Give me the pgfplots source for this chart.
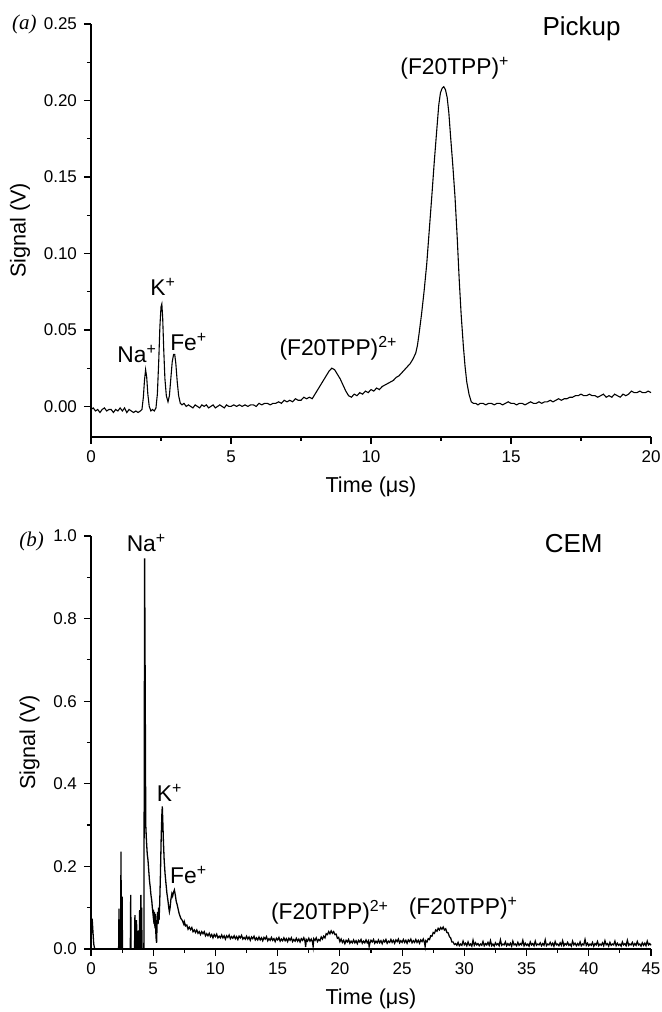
\documentclass[border=0pt]{standalone}
\usepackage{fontspec}
\setmainfont{Liberation Sans}
\newfontfamily\serifit{Liberation Serif}
\usepackage{pgfplots}
\pgfplotsset{compat=1.18}

\pgfplotsset{
  tof/.style={
    scale only axis, width=280pt, height=206.5pt,
    axis x line*=bottom, axis y line*=left,
    axis line style={line width=0.6pt,-},
    tick style={line width=0.6pt,black},
    tick align=outside,
    major tick length=3.5pt, minor tick length=2pt,
    minor x tick num=1, minor y tick num=1,
    tick label style={font=\fontsize{8.5}{10}\selectfont},
    label style={font=\fontsize{10.8}{12}\selectfont},
    /pgf/number format/assume math mode=true,
    scaled y ticks=false,
    xlabel={Time (μs)}, ylabel={Signal (V)},
    clip=false,
  },
  trace/.style={black, line width=0.55pt, no markers},
}
\tikzset{peak/.style={font=\fontsize{11.4}{13}\selectfont}}

% pickup signal
\pgfplotstableread{
x y
0.00 -0.002
0.08 -0.001
0.16 -0.003
0.24 -0.002
0.32 -0.004
0.40 -0.002
0.48 -0.001
0.56 -0.003
0.64 -0.002
0.72 -0.002
0.80 -0.004
0.88 -0.002
0.96 -0.003
1.04 -0.001
1.12 -0.003
1.20 -0.001
1.28 -0.004
1.36 -0.002
1.44 -0.003
1.52 -0.004
1.60 -0.003
1.68 -0.004
1.76 -0.003
1.82 -0.002
1.87 0.006
1.91 0.017
1.95 0.024
1.99 0.019
2.03 0.008
2.08 0.000
2.14 -0.003
2.20 -0.002
2.26 -0.003
2.32 -0.001
2.37 0.008
2.42 0.030
2.46 0.052
2.50 0.065
2.53 0.067
2.56 0.058
2.60 0.036
2.64 0.018
2.69 0.007
2.75 0.003
2.80 0.007
2.85 0.018
2.90 0.029
2.95 0.034
2.99 0.034
3.03 0.028
3.08 0.016
3.13 0.007
3.19 0.002
3.25 0.001
3.32 0.002
3.40 0.000
3.48 0.001
3.56 0.000
3.64 -0.001
3.72 0.001
3.80 0.000
3.88 -0.001
3.96 0.001
4.04 0.000
4.12 0.001
4.20 -0.001
4.28 0.000
4.36 0.001
4.44 -0.001
4.52 0.000
4.60 0.001
4.68 0.000
4.76 -0.001
4.84 0.001
4.92 0.000
5.00 0.000
5.10 0.001
5.20 0.000
5.30 0.001
5.40 0.000
5.50 0.001
5.60 0.000
5.70 0.001
5.80 0.001
5.90 0.000
6.00 0.002
6.10 0.001
6.20 0.002
6.30 0.002
6.40 0.001
6.50 0.002
6.60 0.002
6.70 0.003
6.80 0.002
6.90 0.004
7.00 0.003
7.10 0.004
7.20 0.003
7.30 0.005
7.40 0.004
7.50 0.004
7.60 0.006
7.70 0.005
7.80 0.006
7.90 0.005
8.00 0.008
8.10 0.011
8.20 0.014
8.30 0.017
8.40 0.020
8.50 0.023
8.60 0.025
8.70 0.024
8.80 0.021
8.90 0.018
9.00 0.014
9.10 0.010
9.20 0.007
9.30 0.006
9.40 0.008
9.50 0.007
9.60 0.009
9.70 0.008
9.80 0.010
9.90 0.009
10.00 0.011
10.10 0.010
10.20 0.012
10.30 0.011
10.40 0.013
10.50 0.014
10.60 0.015
10.70 0.016
10.80 0.017
10.90 0.019
11.00 0.020
11.10 0.022
11.20 0.024
11.30 0.026
11.40 0.028
11.50 0.031
11.60 0.035
11.66 0.040
11.72 0.048
11.81 0.061
11.90 0.076
11.99 0.093
12.08 0.115
12.17 0.137
12.26 0.160
12.35 0.181
12.42 0.197
12.48 0.205
12.54 0.208
12.60 0.209
12.66 0.207
12.72 0.202
12.78 0.192
12.84 0.177
12.92 0.158
13.00 0.137
13.08 0.110
13.15 0.083
13.22 0.060
13.30 0.039
13.36 0.026
13.42 0.016
13.50 0.008
13.58 0.003
13.66 0.002
13.74 0.002
13.82 0.001
13.90 0.002
14.00 0.002
14.10 0.001
14.20 0.002
14.30 0.002
14.40 0.001
14.50 0.002
14.60 0.002
14.70 0.001
14.80 0.002
14.90 0.003
15.00 0.002
15.10 0.002
15.20 0.001
15.30 0.002
15.40 0.002
15.50 0.001
15.60 0.002
15.70 0.003
15.80 0.002
15.90 0.002
16.00 0.003
16.10 0.002
16.20 0.003
16.30 0.003
16.40 0.004
16.50 0.003
16.60 0.004
16.70 0.005
16.80 0.004
16.90 0.005
17.00 0.005
17.10 0.006
17.20 0.006
17.30 0.007
17.40 0.007
17.50 0.008
17.60 0.007
17.70 0.007
17.80 0.008
17.90 0.007
18.00 0.007
18.10 0.006
18.20 0.007
18.30 0.008
18.40 0.006
18.50 0.007
18.60 0.006
18.70 0.008
18.80 0.007
18.90 0.006
19.00 0.008
19.10 0.007
19.20 0.008
19.30 0.010
19.40 0.009
19.50 0.009
19.60 0.010
19.70 0.009
19.80 0.009
19.90 0.010
20.00 0.009
}\pickup

% CEM signal
\pgfplotstableread{
x y
0.00 0.000
0.05 0.068
0.10 0.070
0.16 0.040
0.22 0.012
0.30 0.000
2.22 0.000
2.25 0.098
2.28 0.000
2.38 0.000
2.41 0.236
2.44 0.000
2.47 0.000
2.50 0.127
2.53 0.000
3.16 0.000
3.19 0.131
3.22 0.000
3.50 0.000
3.53 0.082
3.56 0.000
3.63 0.000
3.66 0.070
3.69 0.000
3.78 0.000
3.81 0.045
3.84 0.000
3.88 0.000
3.91 0.094
3.94 0.000
3.98 0.000
4.01 0.131
4.04 0.020
4.07 0.100
4.10 0.000
4.25 0.000
4.31 0.946
4.36 0.600
4.40 0.300
4.46 0.260
4.52 0.230
4.58 0.215
4.64 0.190
4.70 0.165
4.76 0.150
4.82 0.130
4.88 0.118
4.93 0.100
4.98 0.085
5.02 0.095
5.06 0.060
5.10 0.090
5.14 0.050
5.18 0.085
5.22 0.030
5.27 0.015
5.31 0.060
5.35 0.090
5.39 0.060
5.43 0.100
5.47 0.070
5.52 0.110
5.58 0.180
5.64 0.270
5.70 0.330
5.73 0.345
5.77 0.310
5.82 0.260
5.88 0.215
5.95 0.183
6.02 0.160
6.10 0.135
6.18 0.118
6.25 0.100
6.30 0.090
6.35 0.098
6.42 0.120
6.50 0.134
6.56 0.128
6.62 0.136
6.70 0.143
6.78 0.130
6.85 0.115
6.92 0.108
7.00 0.097
7.08 0.086
7.15 0.080
7.22 0.074
7.30 0.071
7.38 0.066
7.46 0.060
7.5 0.066
7.6 0.056
7.7 0.058
7.8 0.048
7.9 0.053
8.0 0.047
8.1 0.052
8.2 0.042
8.3 0.046
8.4 0.040
8.5 0.046
8.6 0.038
8.7 0.042
8.8 0.035
8.9 0.042
9.0 0.037
9.1 0.042
9.2 0.032
9.3 0.037
9.4 0.032
9.5 0.038
9.6 0.030
9.7 0.035
9.8 0.027
9.9 0.035
10.0 0.030
10.1 0.036
10.2 0.027
10.3 0.031
10.4 0.027
10.5 0.034
10.6 0.027
10.7 0.032
10.8 0.024
10.9 0.032
11.0 0.028
11.1 0.034
11.2 0.025
11.3 0.030
11.4 0.026
11.5 0.032
11.6 0.025
11.7 0.030
11.8 0.023
11.9 0.031
12.0 0.027
12.1 0.033
12.2 0.024
12.3 0.028
12.4 0.024
12.5 0.031
12.6 0.024
12.7 0.029
12.8 0.021
12.9 0.029
13.0 0.025
13.1 0.031
13.2 0.022
13.3 0.027
13.4 0.022
13.5 0.029
13.6 0.022
13.7 0.027
13.8 0.020
13.9 0.028
14.0 0.024
14.1 0.030
14.2 0.020
14.3 0.025
14.4 0.021
14.5 0.028
14.6 0.021
14.7 0.025
14.8 0.018
14.9 0.026
15.0 0.022
15.1 0.028
15.2 0.019
15.3 0.024
15.4 0.020
15.5 0.027
15.6 0.020
15.7 0.025
15.8 0.018
15.9 0.026
16.0 0.021
16.1 0.027
16.2 0.018
16.3 0.023
16.4 0.019
16.5 0.026
16.6 0.019
16.7 0.024
16.8 0.017
16.9 0.025
17.0 0.021
17.1 0.027
17.2 0.018
17.25 0.005
17.3 0.023
17.4 0.019
17.5 0.026
17.6 0.019
17.7 0.024
17.8 0.017
17.85 0.006
17.9 0.025
18.0 0.021
18.1 0.027
18.2 0.018
18.3 0.023
18.4 0.020
18.5 0.029
18.6 0.024
18.7 0.031
18.8 0.027
18.9 0.037
19.0 0.035
19.1 0.042
19.2 0.037
19.3 0.044
19.4 0.038
19.5 0.042
19.6 0.035
19.7 0.036
19.8 0.026
19.9 0.028
20.0 0.018
20.1 0.024
20.2 0.016
20.3 0.021
20.4 0.013
20.5 0.021
20.6 0.017
20.7 0.023
20.8 0.014
20.9 0.019
21.0 0.015
21.1 0.022
21.2 0.015
21.3 0.020
21.4 0.013
21.5 0.021
21.6 0.017
21.7 0.023
21.8 0.014
21.9 0.019
22.0 0.015
22.1 0.022
22.2 0.015
22.3 0.020
22.35 0.006
22.4 0.013
22.5 0.021
22.6 0.017
22.7 0.023
22.8 0.014
22.9 0.019
23.0 0.015
23.1 0.022
23.2 0.015
23.3 0.020
23.4 0.013
23.5 0.021
23.6 0.017
23.7 0.023
23.8 0.014
23.9 0.019
24.0 0.016
24.1 0.023
24.2 0.016
24.3 0.021
24.4 0.014
24.5 0.022
24.6 0.018
24.7 0.024
24.8 0.015
24.9 0.020
25.0 0.016
25.1 0.023
25.2 0.016
25.3 0.021
25.4 0.014
25.5 0.022
25.6 0.018
25.7 0.024
25.8 0.015
25.9 0.020
26.0 0.016
26.1 0.023
26.2 0.016
26.3 0.021
26.4 0.014
26.5 0.022
26.6 0.018
26.7 0.024
26.8 0.015
26.85 0.006
26.9 0.020
27.0 0.017
27.1 0.025
27.2 0.023
27.3 0.032
27.4 0.031
27.5 0.040
27.6 0.038
27.7 0.046
27.8 0.043
27.9 0.050
28.0 0.046
28.1 0.052
28.2 0.048
28.3 0.053
28.4 0.046
28.5 0.049
28.6 0.040
28.7 0.039
28.8 0.030
28.9 0.027
29.0 0.017
29.1 0.017
29.2 0.011
29.3 0.013
29.4 0.009
29.5 0.016
29.6 0.008
29.7 0.012
29.8 0.009
29.9 0.019
30.0 0.010
30.1 0.014
30.2 0.008
30.3 0.017
30.4 0.009
30.5 0.012
30.6 0.007
30.7 0.021
30.8 0.009
30.9 0.015
31.0 0.010
31.1 0.013
31.2 0.008
31.3 0.012
31.4 0.009
31.5 0.018
31.6 0.008
31.7 0.013
31.8 0.010
31.9 0.016
32.0 0.009
32.1 0.020
32.2 0.008
32.3 0.012
32.4 0.007
32.5 0.015
32.6 0.010
32.7 0.013
32.8 0.008
32.9 0.022
33.0 0.009
33.1 0.012
33.2 0.010
33.3 0.017
33.4 0.008
33.5 0.013
33.6 0.009
33.7 0.014
33.8 0.007
33.9 0.019
34.0 0.010
34.1 0.012
34.2 0.008
34.3 0.016
34.4 0.009
34.5 0.013
34.6 0.010
34.7 0.021
34.8 0.008
34.9 0.014
35.0 0.009
35.1 0.012
35.2 0.007
35.3 0.017
35.4 0.010
35.5 0.013
35.6 0.008
35.7 0.019
35.8 0.009
35.9 0.012
36.0 0.010
36.1 0.015
36.2 0.008
36.3 0.013
36.4 0.009
36.5 0.022
36.6 0.008
36.7 0.012
36.8 0.010
36.9 0.016
37.0 0.009
37.1 0.014
37.2 0.007
37.3 0.018
37.4 0.010
37.5 0.012
37.6 0.008
37.7 0.015
37.8 0.009
37.9 0.020
38.0 0.008
38.1 0.013
38.2 0.010
38.3 0.016
38.4 0.009
38.5 0.012
38.6 0.007
38.7 0.019
38.8 0.010
38.9 0.014
39.0 0.008
39.1 0.013
39.2 0.009
39.3 0.017
39.4 0.008
39.5 0.012
39.6 0.010
39.7 0.023
39.8 0.009
39.9 0.014
40.0 0.008
40.1 0.012
40.2 0.009
40.3 0.016
40.4 0.007
40.5 0.013
40.6 0.010
40.7 0.018
40.8 0.008
40.9 0.012
41.0 0.009
41.1 0.015
41.2 0.008
41.3 0.020
41.4 0.010
41.5 0.013
41.6 0.007
41.7 0.016
41.8 0.009
41.9 0.012
42.0 0.010
42.1 0.019
42.2 0.008
42.3 0.014
42.4 0.009
42.5 0.012
42.6 0.007
42.7 0.017
42.8 0.010
42.9 0.013
43.0 0.008
43.1 0.021
43.2 0.009
43.3 0.012
43.4 0.010
43.5 0.016
43.6 0.008
43.7 0.013
43.8 0.009
43.9 0.018
44.0 0.010
44.1 0.012
44.2 0.007
44.3 0.015
44.4 0.009
44.5 0.014
44.6 0.008
44.7 0.019
44.8 0.010
44.9 0.013
45.0 0.009
}\cem

\begin{document}
\begin{tikzpicture}
\path[use as bounding box] (0,0) rectangle (331pt,506pt);

\begin{axis}[tof,
  at={(45.5pt,287.5pt)}, anchor=south west,
  xmin=0, xmax=20, ymin=-0.02, ymax=0.25,
  xtick={0,5,10,15,20},
  ytick={0,0.05,0.10,0.15,0.20,0.25},
  yticklabel style={/pgf/number format/.cd,fixed,fixed zerofill,precision=2},
]
\addplot[trace] table[x=x,y=y] {\pickup};
\node[peak] at (axis cs:1.65,0.0345) {Na\textsuperscript{+}};
\node[peak] at (axis cs:2.58,0.078) {K\textsuperscript{+}};
\node[peak] at (axis cs:3.49,0.0423) {Fe\textsuperscript{+}};
\node[peak] at (axis cs:8.84,0.038) {(F20TPP)\textsuperscript{2+}};
\node[peak] at (axis cs:13.0,0.221) {(F20TPP)\textsuperscript{+}};
\node[font=\fontsize{13}{15}\selectfont] at (axis cs:17.52,0.247) {Pickup};
\end{axis}

\begin{axis}[tof,
  at={(45.5pt,31.5pt)}, anchor=south west,
  xmin=0, xmax=45, ymin=0, ymax=1.0,
  xtick={0,5,...,45},
  ytick={0,0.2,0.4,0.6,0.8,1.0},
  yticklabel style={/pgf/number format/.cd,fixed,fixed zerofill,precision=1},
]
\addplot[trace, line width=0.65pt] table[x=x,y=y] {\cem};
\node[peak] at (axis cs:4.46,0.982) {Na\textsuperscript{+}};
\node[peak] at (axis cs:6.32,0.377) {K\textsuperscript{+}};
\node[peak] at (axis cs:7.85,0.179) {Fe\textsuperscript{+}};
\node[peak] at (axis cs:19.21,0.090) {(F20TPP)\textsuperscript{2+}};
\node[peak] at (axis cs:29.93,0.0985) {(F20TPP)\textsuperscript{+}};
\node[font=\fontsize{13}{15}\selectfont] at (axis cs:38.79,0.982) {CEM};
\end{axis}

\node[font=\fontsize{10.5}{12}\selectfont\serifit\itshape] at (12.15pt,494pt) {(a)};
\node[font=\fontsize{10.5}{12}\selectfont\serifit\itshape] at (15.85pt,235.15pt) {(b)};
\end{tikzpicture}
\end{document}
